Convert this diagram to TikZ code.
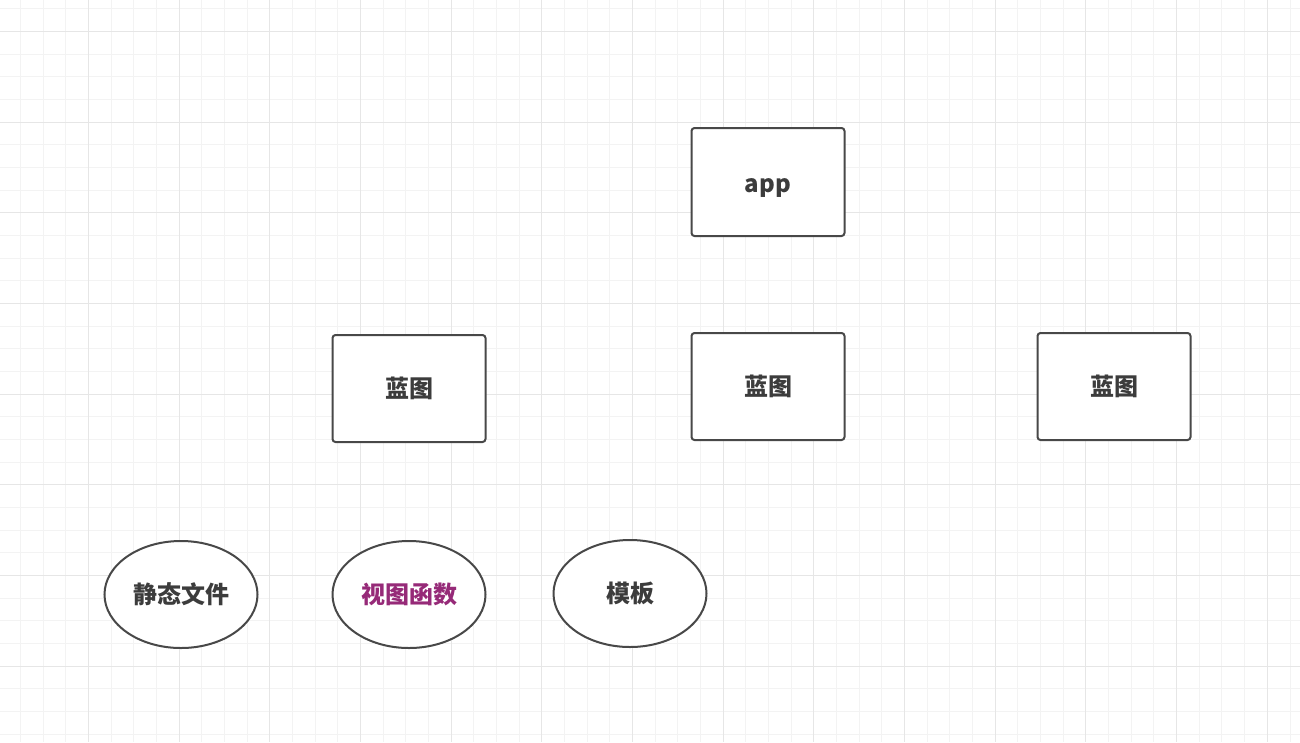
\documentclass[tikz,border=0pt]{standalone}
\usepackage{fontspec}
\usepackage{xcolor}
\usepackage{tikz}
\usetikzlibrary{positioning}
\usetikzlibrary{shapes.geometric}
\newfontfamily\cjk{Noto Sans CJK SC}
\definecolor{edgegray}{HTML}{484848}
\definecolor{textgray}{HTML}{3C3C3C}
\definecolor{funcpurple}{HTML}{962A78}
\definecolor{minorgrid}{HTML}{F3F3F3}
\definecolor{majorgrid}{HTML}{E6E6E6}
\tikzset{%
  box/.style = {rectangle,draw=edgegray,line width=2pt,rounded corners=3pt,
        fill=white,inner sep=0pt,minimum width=153pt,minimum height=107pt,
        text=textgray,font=\cjk\bfseries\fontsize{24}{28}\selectfont},
  oval/.style = {ellipse,draw=edgegray,line width=2pt,
        fill=white,inner sep=0pt,minimum width=153pt,minimum height=107pt,
        text=textgray,font=\cjk\bfseries\fontsize{24}{28}\selectfont}
}
\begin{document}
\begin{tikzpicture}[x=1pt,y=-1pt]
  \useasboundingbox (0,0) rectangle (1300,742);
  \fill[white] (0,0) rectangle (1300,742);
  % grid
  \foreach \k in {-3,...,54}
    \draw[minorgrid,line width=1pt] ({round(88+22.67*\k)+0.5},0) -- ({round(88+22.67*\k)+0.5},742);
  \foreach \k in {-1,...,32}
    \draw[minorgrid,line width=1pt] (0,{round(31+22.67*\k)+0.5}) -- (1300,{round(31+22.67*\k)+0.5});
  \foreach \k in {-1,...,13}
    \draw[majorgrid,line width=1pt] ({round(88+90.68*\k)+0.5},0) -- ({round(88+90.68*\k)+0.5},742);
  \foreach \k in {0,...,8}
    \draw[majorgrid,line width=1pt] (0,{round(31+90.68*\k)+0.5}) -- (1300,{round(31+90.68*\k)+0.5});

  \node[box,minimum height=108pt,text height=21pt,text depth=0pt] (app) at (768,182) {app};
  \node[box] (bp2) [below=95pt of app] {蓝图};
  \node[box] (bp1) [left=204pt of bp2,yshift=-2pt] {蓝图};
  \node[box] (bp3) [right=191pt of bp2] {蓝图};

  \node[oval] (func) [below=97pt of bp1] {\textcolor{funcpurple}{视图函数}};
  \node[oval] (static) [left=73pt of func] {静态文件};
  \node[oval] (tmpl) [right=66pt of func,yshift=1pt] {模板};
\end{tikzpicture}
\end{document}
